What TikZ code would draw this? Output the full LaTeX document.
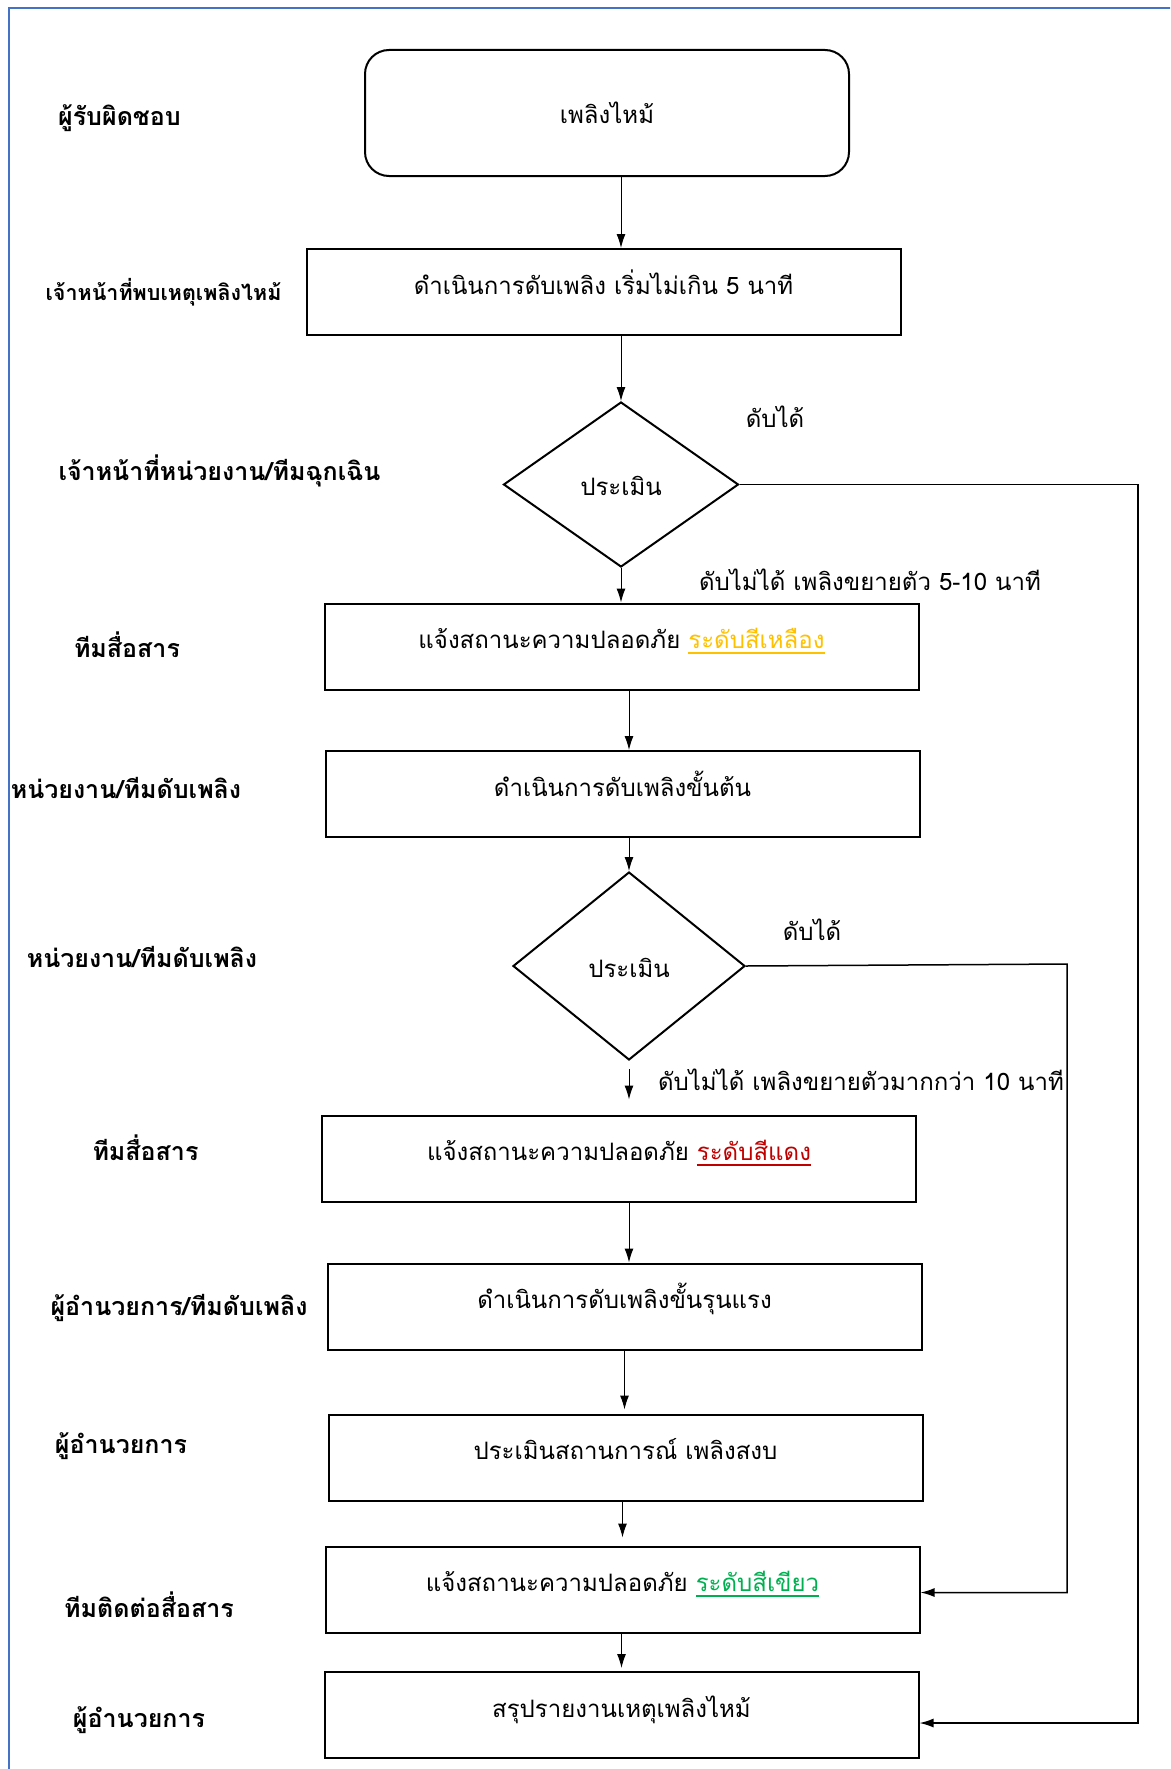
\documentclass[tikz,border=0pt]{standalone}
\usepackage{fontspec}
\usepackage{xcolor}
\usetikzlibrary{positioning,
	shapes,
	arrows.meta}
\newfontfamily\thaifont[Script=Thai]{Loma}
\definecolor{frameblue}{HTML}{4472C4}
\definecolor{lvyellow}{HTML}{FFC000}
\definecolor{lvred}{HTML}{C00000}
\definecolor{lvgreen}{HTML}{00B050}
\newcommand{\levelmark}[2]{\textcolor{#1}{\setbox0\hbox{#2}\rlap{\rule[-5pt]{\wd0}{1.8pt}}\box0}}
\tikzstyle{who}=[font=\thaifont\bfseries\fontsize{25}{29}\selectfont, inner sep=0, anchor=base]
\tikzstyle{act}=[draw, line width=2pt, minimum width=594pt, minimum height=86pt, inner sep=0,
		font=\thaifont\fontsize{24}{28}\selectfont, text height=12pt, text depth=8pt]
\tikzstyle{firebox}=[act, rounded corners=24pt, minimum width=484pt, minimum height=126pt,
		text height=20pt, text depth=0pt]
\tikzstyle{check}=[draw, diamond, line width=2pt, inner sep=0,
		font=\thaifont\fontsize{24}{28}\selectfont, text height=22pt, text depth=0pt]
\tikzstyle{note}=[font=\thaifont\fontsize{24}{28}\selectfont, inner sep=0, anchor=base]
\tikzstyle{arr}=[-{Latex[length=14pt,width=9pt]}, line width=1pt]
\tikzstyle{backline}=[-{Latex[length=14pt,width=9pt]}, line width=1.5pt]

\begin{document}
\begin{tikzpicture}[x=1pt, y=-1pt]
    \useasboundingbox (0,0) rectangle (1170,1769);
    \clip (0,0) rectangle (1170,1769);
    \draw[frameblue, line width=2pt] (9,8) rectangle (1190,1790);

    \node[firebox] (fire) at (607,113) {เพลิงไหม้};
    \node[act] (act1) at (603.5,292) {ดำเนินการดับเพลิง เริ่มไม่เกิน 5 นาที};
    \node[check, minimum width=235pt, minimum height=165pt] (chk1) at (621,484.5) {ประเมิน};
    \node[act] (warn1) at (621.5,646.5) {แจ้งสถานะความปลอดภัย \levelmark{lvyellow}{ระดับสีเหลือง}};
    \node[act] (fight1) at (622.5,794) {ดำเนินการดับเพลิงขั้นต้น};
    \node[check, minimum width=232pt, minimum height=188pt] (chk2) at (629,966) {ประเมิน};
    \node[act] (warn2) at (619,1158.5) {แจ้งสถานะความปลอดภัย \levelmark{lvred}{ระดับสีแดง}};
    \node[act] (fight2) at (624.5,1306.5) {ดำเนินการดับเพลิงขั้นรุนแรง};
    \node[act] (assess) at (625.5,1457.5) {ประเมินสถานการณ์ เพลิงสงบ};
    \node[act] (warn3) at (622.5,1589.5) {แจ้งสถานะความปลอดภัย \levelmark{lvgreen}{ระดับสีเขียว}};
    \node[act] (report) at (621.5,1715) {สรุปรายงานเหตุเพลิงไหม้};

    \node[who] (who1) at (119.5,125) {ผู้รับผิดชอบ};
    \node[who, font=\thaifont\bfseries\fontsize{21.5}{25}\selectfont] (who2) at (163.5,300) {เจ้าหน้าที่พบเหตุเพลิงไหม้};
    \node[who] (who3) at (219.5,480) {เจ้าหน้าที่หน่วยงาน/ทีมฉุกเฉิน};
    \node[who] (who4) at (127,657) {ทีมสื่อสาร};
    \node[who] (who5) at (126,798) {หน่วยงาน/ทีมดับเพลิง};
    \node[who] (who6) at (142,967) {หน่วยงาน/ทีมดับเพลิง};
    \node[who] (who7) at (145.5,1160) {ทีมสื่อสาร};
    \node[who] (who8) at (179,1315) {ผู้อำนวยการ/ทีมดับเพลิง};
    \node[who] (who9) at (121,1453) {ผู้อำนวยการ};
    \node[who] (who10) at (149,1617) {ทีมติดต่อสื่อสาร};
    \node[who] (who11) at (139,1727) {ผู้อำนวยการ};

    \node[note] (ok1) at (775,427) {ดับได้};
    \node[note] (fail1) at (870,590) {ดับไม่ได้ เพลิงขยายตัว 5-10 นาที};
    \node[note] (ok2) at (812,940) {ดับได้};
    \node[note] (fail2) at (861,1090) {ดับไม่ได้ เพลิงขยายตัวมากกว่า 10 นาที};

    \draw[arr] (fire.south -| chk1) -- (act1.north -| chk1);
    \draw[arr] (act1.south -| chk1) -- (chk1.north);
    \draw[arr] (chk1.south) -- (chk1.south |- warn1.north);
    \draw[arr] (warn1.south -| chk2) -- (fight1.north -| chk2);
    \draw[arr] (fight1.south -| chk2) -- (chk2.north);
    \draw[arr, shorten <=8pt, shorten >=15pt] (chk2.south) -- (chk2.south |- warn2.north);
    \draw[arr] (warn2.south -| chk2) -- (fight2.north -| chk2);
    \draw[arr, shorten >=4pt] (fight2.south) -- (fight2.south |- assess.north);
    \draw[arr, shorten >=8pt] (assess.south -| warn3) -- (warn3.north);
    \draw[arr, shorten >=3pt] (warn3.south -| report) -- (report.north);

    \coordinate (railA) at (1138,484.5);
    \coordinate (railB) at (1067,964);
    \draw[backline] (chk1.east) -- (railA) |- ([yshift=-8pt]report.east);
    \draw[backline] (chk2.east) -- (railB) |- ([yshift=-3pt]warn3.east);
\end{tikzpicture}
\end{document}
